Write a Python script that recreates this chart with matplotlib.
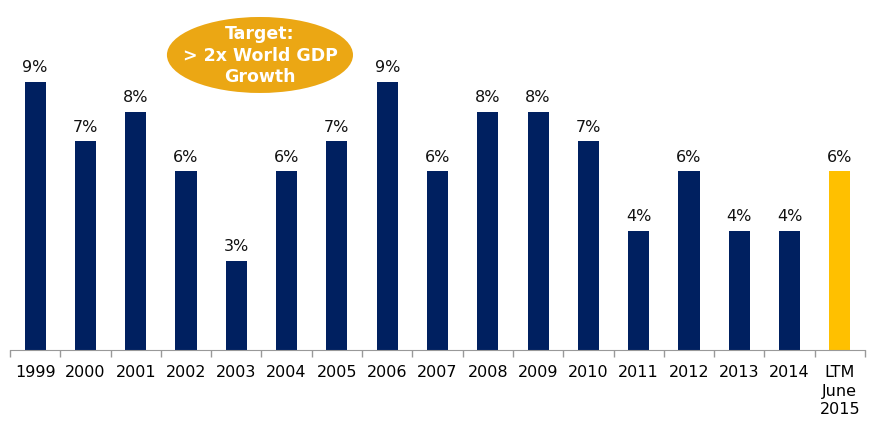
import matplotlib.pyplot as plt
from matplotlib.patches import Ellipse
import numpy as np

years = ["1999", "2000", "2001", "2002", "2003", "2004", "2005", "2006", "2007",
         "2008", "2009", "2010", "2011", "2012", "2013", "2014", "LTM\nJune\n2015"]
growth = [9, 7, 8, 6, 3, 6, 7, 9, 6, 8, 8, 7, 4, 6, 4, 4, 6]

navy = "#002060"
gold = "#FFC000"
colors = [navy] * (len(years) - 1) + [gold]

fig = plt.figure(figsize=(8.79, 4.26), dpi=100)
ax = fig.add_axes([10 / 879, 1 - 350 / 426, 855 / 879, 350 / 426])

x = np.arange(len(years))
bars = ax.bar(x, growth, width=0.42, color=colors)

for xi, v in zip(x, growth):
    ax.text(xi, v + 0.22, f"{v}%", ha="center", va="bottom", fontsize=11.5, color="#111111")

ax.set_xlim(-0.5, len(years) - 0.5)
ax.set_ylim(0, 350 / 29.8)
ax.set_yticks([])
ax.set_xticks(x)
ax.set_xticklabels(years, fontsize=11.5, linespacing=1.3)
ax.set_xticks(np.arange(-0.5, len(years)), minor=True)
ax.tick_params(axis="x", which="major", length=0, pad=11)
ax.tick_params(axis="x", which="minor", length=5, color="#999999", width=1)

for s in ["top", "left", "right"]:
    ax.spines[s].set_visible(False)
ax.spines["bottom"].set_color("#999999")

# target bubble
ell = Ellipse((4.47, 9.9), 3.7, 2.55, facecolor="#EBA714", edgecolor="none", clip_on=False, zorder=5)
ax.add_patch(ell)
ax.text(4.47, 9.87, "Target:\n> 2x World GDP\nGrowth", ha="center", va="center",
        fontsize=12.5, fontweight="bold", color="white", linespacing=1.25, zorder=6)

fig.savefig("out.png", dpi=100)
